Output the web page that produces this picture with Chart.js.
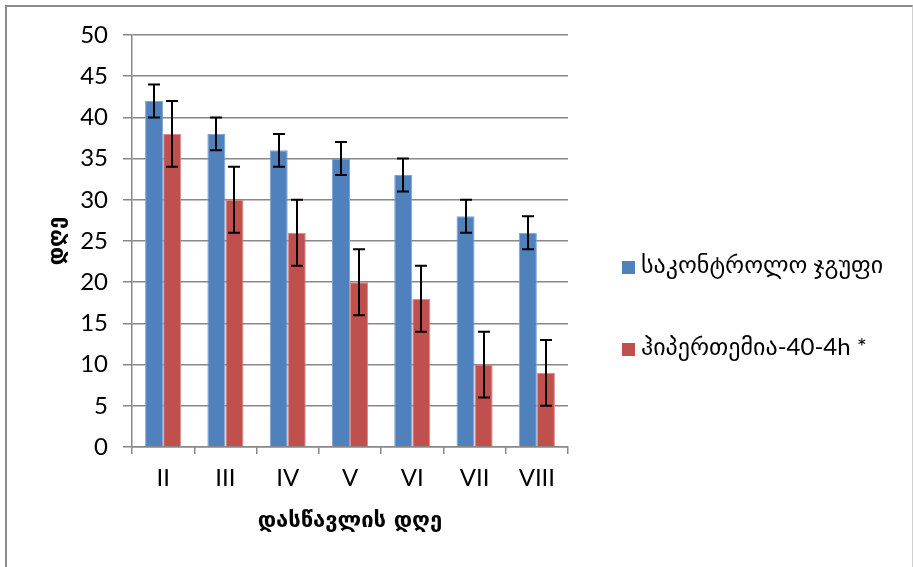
<!DOCTYPE html>
<html>
<head>
<meta charset="utf-8">
<script src="https://cdn.jsdelivr.net/npm/chart.js@4.4.1/dist/chart.umd.min.js"></script>
<style>
  body { margin: 0; background: #fff; }
  #wrap { position: relative; width: 913px; height: 567px; overflow: hidden; }
  #frame { position: absolute; left: 5px; top: 5px; width: 905px; height: 600px;
           border-left: 2px solid #8c8c8c; border-top: 2px solid #8c8c8c; border-right: 1px solid #d0d0d0; }
  #chart { position: absolute; left: 0; top: 0; }
  #legend { position: absolute; left: 622px; top: 249px; font-family: Lato, "DejaVu Sans", sans-serif; font-size: 24px; color: #000; }
  #legend div { height: 82px; display: flex; align-items: flex-start; white-space: nowrap; }
  #legend span.box { display: inline-block; width: 13px; height: 13px; margin: 12px 6px 0 0; }
</style>
</head>
<body>
<div id="wrap">
  <div id="frame"></div>
  <canvas id="chart" width="913" height="567"></canvas>
  <div id="legend"></div>
</div>
<script>
// learning days
const days = ["II", "III", "IV", "V", "VI", "VII", "VIII"];
const seriesNames = ["საკონტროლო ჯგუფი", "ჰიპერთემია-40-4h *"];
const controlValues = [42, 38, 36, 35, 33, 28, 26];
const controlErr = [2, 2, 2, 2, 2, 2, 2];
const hyperValues = [38, 30, 26, 20, 18, 10, 9];
const hyperErr = [4, 4, 4, 4, 4, 4, 4];
const yTicks = [0, 5, 10, 15, 20, 25, 30, 35, 40, 45, 50];

const colors = ["#4F81BD", "#C0504D"];
const borders = ["#7FA3D3", "#D98B89"];
const errors = [controlErr, hyperErr];

// draw error bars over each bar using the scales
const errorBars = {
  id: "errorBars",
  afterDatasetsDraw(chart) {
    const ctx = chart.ctx;
    const y = chart.scales.y;
    ctx.save();
    ctx.strokeStyle = "#000";
    ctx.lineWidth = 2;
    chart.data.datasets.forEach((ds, di) => {
      const meta = chart.getDatasetMeta(di);
      meta.data.forEach((bar, i) => {
        const v = ds.data[i];
        const e = errors[di][i];
        const top = y.getPixelForValue(v + e);
        const bot = y.getPixelForValue(v - e);
        const x = Math.round(bar.x);
        ctx.beginPath();
        ctx.moveTo(x, top); ctx.lineTo(x, bot);
        ctx.moveTo(x - 6, top); ctx.lineTo(x + 6, top);
        ctx.moveTo(x - 6, bot); ctx.lineTo(x + 6, bot);
        ctx.stroke();
      });
    });
    ctx.restore();
  }
};

const tickFont = { family: "Lato, 'DejaVu Sans', sans-serif", size: 24 };
const titleFont = { family: "'DejaVu Sans', sans-serif", size: 22, weight: "bold" };

new Chart(document.getElementById("chart"), {
  type: "bar",
  data: {
    labels: days,
    datasets: [controlValues, hyperValues].map((d, i) => ({
      label: seriesNames[i],
      data: d,
      backgroundColor: colors[i],
      borderColor: borders[i],
      borderWidth: 1,
      barPercentage: 1,
      categoryPercentage: 0.58
    }))
  },
  options: {
    responsive: false,
    animation: false,
    events: [],
    layout: { padding: { left: 0, top: 35, right: 345, bottom: 0 } },
    plugins: { legend: { display: false }, tooltip: { enabled: false } },
    scales: {
      x: {
        grid: { display: true, drawOnChartArea: false, drawTicks: true, tickLength: 7, color: "#888", lineWidth: 1.5, offset: true },
        border: { display: true, color: "#888", width: 1.5 },
        ticks: { color: "#000", font: tickFont, padding: 10 },
        title: { display: true, text: "დასწავლის დღე", color: "#000", font: titleFont, padding: { top: 14, bottom: 33 } },
        afterFit: s => { s.height = 120; }
      },
      y: {
        min: 0, max: 50,
        afterBuildTicks: s => { s.ticks = yTicks.map(v => ({ value: v })); },
        grid: { color: "#888", lineWidth: 1.5, drawTicks: true, tickLength: 9 },
        border: { display: true, color: "#888", width: 1.5 },
        ticks: { color: "#000", font: tickFont, padding: 15 },
        title: { display: true, text: "დღე", color: "#000", font: titleFont, padding: { top: 44, bottom: 0 } },
        afterFit: s => { s.width = 132; }
      }
    }
  },
  plugins: [errorBars]
});

// legend as html, built from the series names
const leg = document.getElementById("legend");
seriesNames.forEach((name, i) => {
  const row = document.createElement("div");
  const box = document.createElement("span");
  box.className = "box";
  box.style.background = colors[i];
  row.appendChild(box);
  row.appendChild(document.createTextNode(name));
  leg.appendChild(row);
});
</script>
</body>
</html>
